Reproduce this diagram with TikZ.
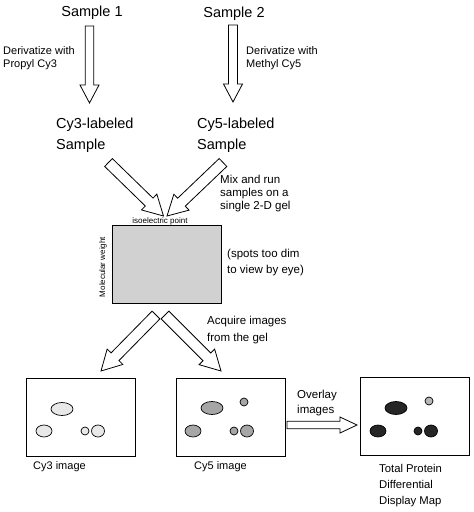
\documentclass[tikz,border=0pt]{standalone}
\usepackage{fontspec}
\setmainfont{Liberation Sans}
\usetikzlibrary{calc}
\newcommand{\blockarrow}[5]{% tail, tip, half shaft, half head, head length
  \coordinate (bac) at ($(#2)!#5!(#1)$);
  \draw[barrow] ($(#1)!#3!90:(#2)$) -- ($(bac)!#3!90:(#2)$) -- ($(bac)!#4!90:(#2)$) -- (#2)
     -- ($(bac)!#4!-90:(#2)$) -- ($(bac)!#3!-90:(#2)$) -- ($(#1)!#3!-90:(#2)$) -- cycle;}
\tikzset{
  barrow/.style={draw=black, fill=white, line width=0.8pt, line join=miter},
  big/.style={inner sep=0, font=\fontsize{14.5}{21}\selectfont, align=left},
  small/.style={inner sep=0, font=\fontsize{11}{13}\selectfont, align=left},
  tiny/.style={inner sep=0, font=\fontsize{8}{9}\selectfont},
  imgbox/.style={draw=black, line width=0.9pt, fill=white, minimum width=109pt, minimum height=78pt, inner sep=0},
  spot/.style={draw=black, line width=0.7pt},
  c3/.style={spot, fill=black!9},
  c5/.style={spot, fill=black!35},
  ct/.style={spot, fill=black!85},
  cl/.style={spot, fill=black!28},
}
\begin{document}
\begin{tikzpicture}[x=1pt,y=-1pt]
\useasboundingbox (0,0) rectangle (474,512);
% samples
\node[big, anchor=base] (s1) at (92,16) {Sample 1};
\node[big, anchor=base] (s2) at (234,17) {Sample 2};
\coordinate (a1t) at (89.5,26);
\coordinate (a1h) at (89.5,103);
\coordinate (a2t) at (233,25);
\coordinate (a2h) at (233,102);
\blockarrow{a1t}{a1h}{4.25pt}{9.5pt}{18pt}
\blockarrow{a2t}{a2h}{4.5pt}{9.5pt}{18pt}
\node[small, anchor=base west] (d1) at (3,67) {Derivatize with\\Propyl Cy3};
\node[small, anchor=base west] (d2) at (246,67) {Derivatize with\\Methyl Cy5};
% labeled samples
\node[big, anchor=base west] (l1) at (56,149) {Cy3-labeled\\Sample};
\node[big, anchor=base west] (l2) at (197,149) {Cy5-labeled\\Sample};
% mixing arrows
\coordinate (m1t) at (108.5,162.5);
\coordinate (m2t) at (223,162.5);
\coordinate (m1h) at (163.5,216);
\coordinate (m2h) at (167,216);
\blockarrow{m1t}{m1h}{5.5pt}{11pt}{20pt}
\blockarrow{m2t}{m2h}{5.5pt}{11pt}{20pt}
\node[small, font=\fontsize{11.5}{13}\selectfont, anchor=base west] (mix) at (220,209) {Mix and run\\samples on a\\single 2-D gel};
% gel
\node[tiny, anchor=base] (iso) at (160,223) {isoelectric point};
\node[draw=black, line width=0.9pt, fill=black!18, anchor=north west, minimum width=109pt, minimum height=78pt, inner sep=0] (gel) at (112,225) {};
\node[tiny, rotate=90] (mw) at (103,267) {Molecular weight};
\node[small, font=\fontsize{11.5}{16}\selectfont, anchor=base west] (dim) at (227,273) {(spots too dim\\to view by eye)};
% acquire arrows
\coordinate (g1t) at (156,315);
\coordinate (g2t) at (165,315);
\coordinate (g1h) at (101,371);
\coordinate (g2h) at (221,371);
\blockarrow{g1t}{g1h}{5.5pt}{11pt}{20pt}
\blockarrow{g2t}{g2h}{5.5pt}{11pt}{20pt}
\node[small, font=\fontsize{11.5}{17}\selectfont, anchor=base west] (acq) at (207,341) {Acquire images\\from the gel};
% image boxes
\node[imgbox, anchor=north west] (b3) at (26,378) {};
\node[imgbox, anchor=north west] (b5) at (176,378) {};
\node[imgbox, anchor=north west] (bt) at (360,377) {};
% Cy3 spots
\draw[c3] ($(b3.north west)+(36,31)$) ellipse [x radius=11, y radius=6.5];
\draw[c3] ($(b3.north west)+(18,53)$) ellipse [x radius=8, y radius=6];
\draw[c3] ($(b3.north west)+(59,53)$) circle [radius=4];
\draw[c3] ($(b3.north west)+(72,53)$) ellipse [x radius=6.5, y radius=6];
% Cy5 spots
\draw[c5] ($(b5.north west)+(36,30)$) ellipse [x radius=11, y radius=6.5];
\draw[c5] ($(b5.north west)+(68,24)$) circle [radius=4];
\draw[c5] ($(b5.north west)+(17,53)$) ellipse [x radius=8, y radius=6];
\draw[c5] ($(b5.north west)+(58,53)$) circle [radius=4];
\draw[c5] ($(b5.north west)+(71,53)$) ellipse [x radius=6.5, y radius=6];
% overlay spots
\draw[ct] ($(bt.north west)+(36,31)$) ellipse [x radius=11, y radius=6.5];
\draw[cl] ($(bt.north west)+(69,24)$) circle [radius=4];
\draw[ct] ($(bt.north west)+(18,54)$) ellipse [x radius=8, y radius=6];
\draw[ct] ($(bt.north west)+(58,54)$) circle [radius=4];
\draw[ct] ($(bt.north west)+(71,54)$) ellipse [x radius=6.5, y radius=6];
% labels
\node[small, anchor=base west] (lb3) at (33,469) {Cy3 image};
\node[small, anchor=base west] (lb5) at (194,469) {Cy5 image};
\node[small, font=\fontsize{11.3}{16}\selectfont, anchor=base west] (lbt) at (379,504) {Total Protein\\Differential\\Display Map};
% overlay arrow
\coordinate (ot) at (287,425);
\coordinate (oh) at (357,425);
\blockarrow{ot}{oh}{3.7pt}{8pt}{17pt}
\node[small, font=\fontsize{11.5}{15}\selectfont, anchor=base west] (ov) at (297,413) {Overlay\\images};
\end{tikzpicture}
\end{document}
